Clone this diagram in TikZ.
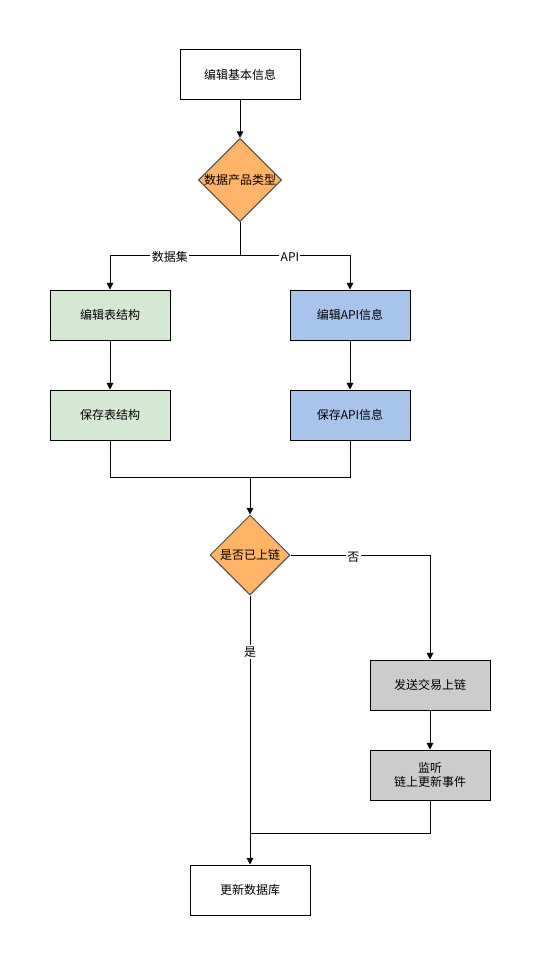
\documentclass[tikz,border=0pt]{standalone}
\usepackage{fontspec}
\setmainfont{Noto Sans CJK SC}
\usetikzlibrary{arrows.meta,shapes.geometric}
\definecolor{orangef}{HTML}{FFB366}
\definecolor{greenf}{HTML}{D5E8D4}
\definecolor{bluef}{HTML}{A9C4EB}
\definecolor{grayf}{HTML}{CCCCCC}
\definecolor{dstroke}{HTML}{4D4D4D}
\begin{document}
\begin{tikzpicture}[x=0.75pt,y=-0.75pt,
  every node/.style={font=\fontsize{9}{11}\selectfont},
  box/.style={draw=black,line width=0.75pt,minimum width=90pt,minimum height=37.5pt,inner sep=0pt,align=center},
  dec/.style={diamond,draw=dstroke,line width=0.75pt,fill=orangef,minimum width=60pt,minimum height=60pt,inner sep=0pt,aspect=1},
  conn/.style={line width=0.75pt,-{Triangle[length=5pt,width=5pt]}},
  line/.style={line width=0.75pt},
  lbl/.style={fill=white,inner sep=1pt,yshift=-1.5pt}]
\useasboundingbox (0,0) rectangle (541,966);
\node[box] (basic) at (240,75) {编辑基本信息};
\node[dec] (type) at (240,180) {数据产品类型};
\node[box,fill=greenf] (etab) at (110,315) {编辑表结构};
\node[box,fill=bluef] (eapi) at (350,315) {编辑API信息};
\node[box,fill=greenf] (stab) at (110,415) {保存表结构};
\node[box,fill=bluef] (sapi) at (350,415) {保存API信息};
\node[dec] (chain) at (250,555) {是否已上链};
\node[box,fill=grayf] (send) at (430,685) {发送交易上链};
\node[box,fill=grayf] (listen) at (430,775) {监听\\链上更新事件};
\node[box] (db) at (250,890) {更新数据库};
\coordinate (split) at (240,255);
\coordinate (merge) at (250,477);
\coordinate (join) at (250,833);
\draw[conn] (basic) -- (type);
\draw[line] (type.south) -- (split);
\draw[conn] (split) -| node[pos=0.27,lbl]{数据集} (etab.north);
\draw[conn] (split) -| node[pos=0.227,lbl]{API} (eapi.north);
\draw[conn] (etab) -- (stab);
\draw[conn] (eapi) -- (sapi);
\draw[line] (stab.south) |- (merge);
\draw[line] (sapi.south) |- (merge);
\draw[conn] (merge) -- (chain.north);
\draw[conn] (chain.east) -| node[pos=0.225,lbl]{否} (send.north);
\draw[conn] (chain.south) -- node[pos=0.21,lbl,yshift=1.5pt]{是} (db.north);
\draw[conn] (send) -- (listen);
\draw[line] (listen.south) |- (join);
\end{tikzpicture}
\end{document}
